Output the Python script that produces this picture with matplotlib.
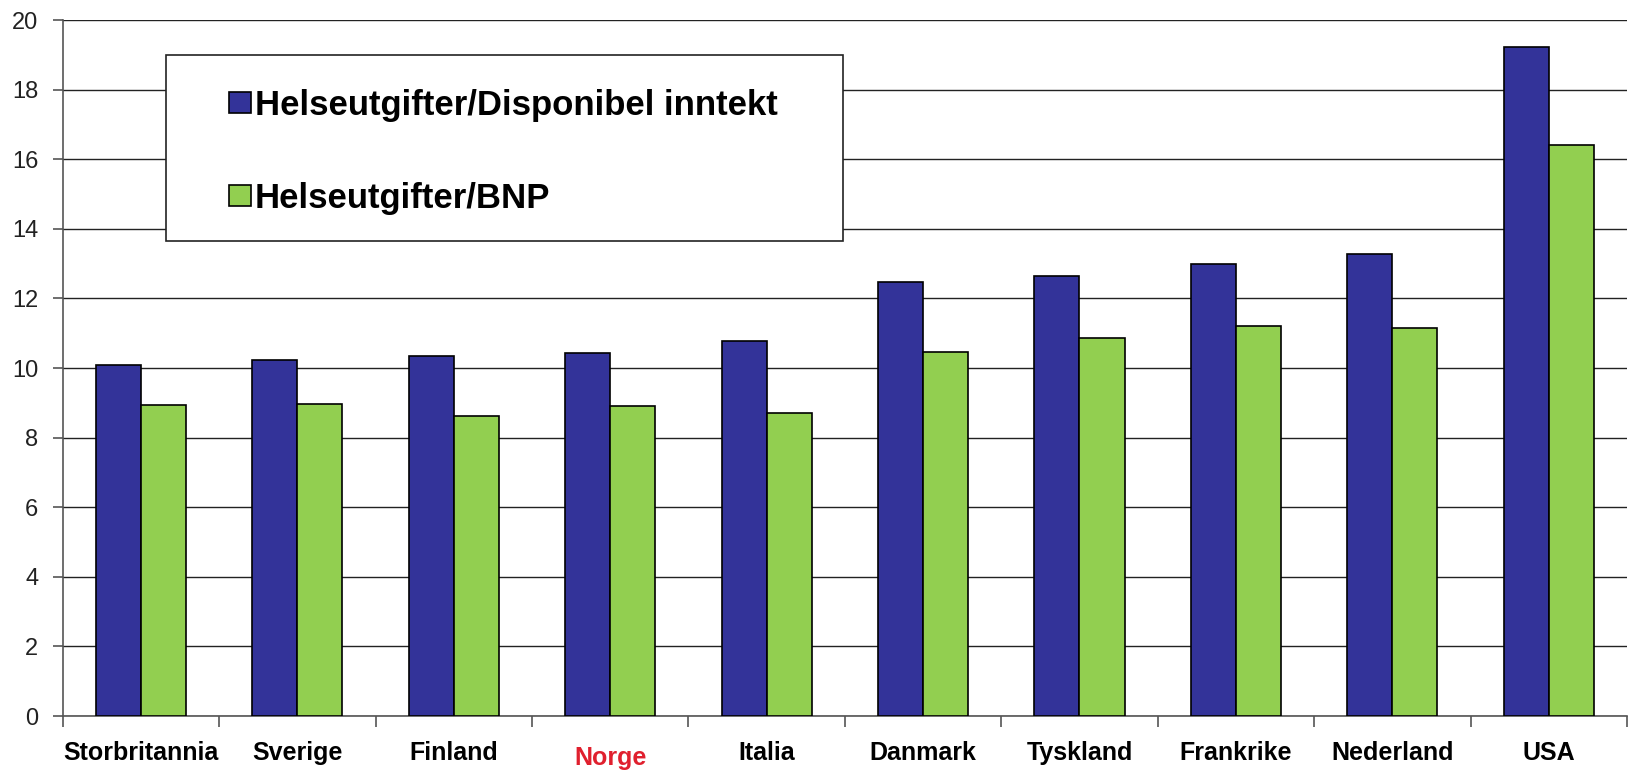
import numpy as np
import matplotlib.pyplot as plt
from matplotlib.patches import Rectangle
import matplotlib.transforms as mtransforms

plt.rcParams['font.family'] = ['Liberation Sans', 'DejaVu Sans']

land = ['Storbritannia', 'Sverige', 'Finland', 'Norge', 'Italia',
        'Danmark', 'Tyskland', 'Frankrike', 'Nederland', 'USA']
disp_inntekt = [10.08, 10.23, 10.34, 10.43, 10.78, 12.47, 12.64, 12.99, 13.28, 19.22]
bnp = [8.95, 8.98, 8.61, 8.92, 8.71, 10.46, 10.86, 11.20, 11.16, 16.40]
navn = ['Helseutgifter/Disponibel inntekt', 'Helseutgifter/BNP']

blaa = '#333399'
groenn = '#92CF50'

fig = plt.figure(figsize=(16.33, 7.70), dpi=100)
ax = fig.add_axes([0.0384, 0.0701, 0.9579, 0.9039])

x = np.arange(len(land))
w = 0.288
ax.bar(x - w/2, disp_inntekt, w, color=blaa, edgecolor='black', linewidth=1.2,
       zorder=3, label=navn[0])
ax.bar(x + w/2, bnp, w, color=groenn, edgecolor='black', linewidth=1.2,
       zorder=3, label=navn[1])

ax.set_xlim(-0.5, len(land) - 0.5)
ax.set_ylim(0, 20)
ax.set_yticks(np.arange(0, 21, 2))
ax.yaxis.grid(True, color='#222222', linewidth=1.0, zorder=0)
ax.set_axisbelow(True)

for s in ['top', 'right']:
    ax.spines[s].set_visible(False)
for s in ['left', 'bottom']:
    ax.spines[s].set_color('#555555')
    ax.spines[s].set_linewidth(1.2)

# kategori-etiketter midt i hver gruppe, tikkstreker mellom gruppene
ax.set_xticks(np.arange(-0.5, len(land), 1.0))
ax.set_xticklabels([])
ax.tick_params(axis='x', length=8, width=1.2, color='#555555')
ax.tick_params(axis='y', length=7, width=1.2, color='#555555', pad=10.5,
               labelsize=17, labelcolor='#222222')

for i, navnet in enumerate(land):
    farge = '#E0202E' if navnet == 'Norge' else 'black'
    dy = -5 if navnet == 'Norge' else 0
    trans = ax.get_xaxis_transform() + mtransforms.ScaledTranslation(0, (-25 + dy) / 100, fig.dpi_scale_trans)
    ax.text(i, 0, navnet, transform=trans, ha='center', va='top',
            fontsize=18, fontweight='bold', color=farge)

# hvit ramme bak forklaringen
ax.add_patch(Rectangle((0.158, 13.64), 4.331, 5.36, transform=ax.transData,
                       facecolor='white', edgecolor='#222222', linewidth=1.2, zorder=4))

leg = ax.legend(loc='upper left', bbox_to_anchor=(0.56, 18.03), bbox_transform=ax.transData,
                frameon=False, fontsize=25, handlelength=0.66, handleheight=0.55,
                handletextpad=0.1, labelspacing=1.74, borderpad=0, borderaxespad=0)
leg.set_zorder(5)
for t in leg.get_texts():
    t.set_fontweight('bold')
for h in leg.legend_handles:
    h.set_linewidth(1.2)

fig.savefig('out.png', dpi=100)
